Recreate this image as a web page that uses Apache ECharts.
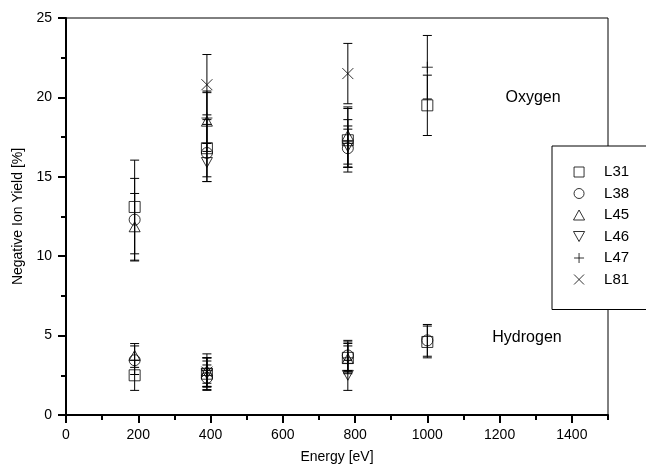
<!DOCTYPE html>
<html>
<head>
<meta charset="utf-8">
<script src="https://cdn.jsdelivr.net/npm/echarts@6/dist/echarts.min.js"></script>
<style>
  html, body { margin: 0; padding: 0; background: #fff; }
  #chart { width: 646px; height: 469px; }
</style>
</head>
<body>
<div id="chart"></div>
<script>
// energies of the measurement points (eV)
const energy = [190, 390, 780, 1000];

// oxygen / hydrogen yields (%) and their error half-widths, per sample
const L31_O = [13.1, 16.8, 17.3, 19.5];
const L31_Oerr = [2.95, 1.8, 2.0, 1.9];
const L31_H = [2.5, 2.6, 3.6, 4.6];
const L31_Herr = [0.95, 1.0, 1.0, 1.0];

const L38_O = [12.3, 16.5, 16.8, null];
const L38_Oerr = [2.6, 1.8, 1.2, null];
const L38_H = [3.45, 2.35, 3.75, 4.7];
const L38_Herr = [0.9, 0.8, 0.95, 1.0];

const L45_O = [11.85, 18.5, 17.6, null];
const L45_Oerr = [2.1, 1.9, 1.8, null];
const L45_H = [3.75, 2.8, 3.55, null];
const L45_Herr = [0.75, 1.05, 0.8, null];

const L46_O = [null, 15.9, 16.9, null];
const L46_Oerr = [null, 1.2, 1.3, null];
const L46_H = [null, 2.6, 2.5, null];
const L46_Herr = [null, 0.8, 0.95, null];

const L47_O = [null, 18.7, 17.1, 21.9];
const L47_Oerr = [null, 1.6, 1.5, 2.0];
const L47_H = [null, 2.8, 3.6, null];
const L47_Herr = [null, 0.8, 0.9, null];

const L81_O = [null, 20.8, 21.5, null];
const L81_Oerr = [null, 1.9, 1.9, null];
const L81_H = [null, 2.7, null, null];
const L81_Herr = [null, 0.9, null, null];

const samples = [
  { name: 'L31', symbol: 'path://M0,0L10,0L10,10L0,10Z', O: L31_O, Oe: L31_Oerr, H: L31_H, He: L31_Herr },
  { name: 'L38', symbol: 'circle', O: L38_O, Oe: L38_Oerr, H: L38_H, He: L38_Herr },
  { name: 'L45', symbol: 'path://M5,0L10,9L0,9Z', O: L45_O, Oe: L45_Oerr, H: L45_H, He: L45_Herr },
  { name: 'L46', symbol: 'path://M0,0L10,0L5,9Z', O: L46_O, Oe: L46_Oerr, H: L46_H, He: L46_Herr },
  { name: 'L47', symbol: 'path://M0,5L10,5M5,0L5,10', O: L47_O, Oe: L47_Oerr, H: L47_H, He: L47_Herr },
  { name: 'L81', symbol: 'path://M0,0L10,10M10,0L0,10', O: L81_O, Oe: L81_Oerr, H: L81_H, He: L81_Herr }
];

function points(s) {
  const pts = [];
  energy.forEach((e, i) => {
    if (s.O[i] != null) pts.push([e, s.O[i]]);
    if (s.H[i] != null) pts.push([e, s.H[i]]);
  });
  return pts;
}

function errs(s) {
  const out = [];
  energy.forEach((e, i) => {
    if (s.O[i] != null) out.push([e, s.O[i] - s.Oe[i], s.O[i] + s.Oe[i]]);
    if (s.H[i] != null) out.push([e, s.H[i] - s.He[i], s.H[i] + s.He[i]]);
  });
  return out;
}

// vertical error bar with small caps
function renderErr(params, api) {
  const x = api.value(0);
  const top = api.coord([x, api.value(2)]);
  const bot = api.coord([x, api.value(1)]);
  const w = 4.5;
  const st = { stroke: '#000', lineWidth: 1 };
  return {
    type: 'group',
    children: [
      { type: 'line', shape: { x1: top[0], y1: top[1], x2: bot[0], y2: bot[1] }, style: st },
      { type: 'line', shape: { x1: top[0] - w, y1: top[1], x2: top[0] + w, y2: top[1] }, style: st },
      { type: 'line', shape: { x1: bot[0] - w, y1: bot[1], x2: bot[0] + w, y2: bot[1] }, style: st }
    ]
  };
}

const font = 'Liberation Sans, Arial, sans-serif';
const series = [];
samples.forEach(s => {
  series.push({
    name: s.name + ' err',
    type: 'custom',
    renderItem: renderErr,
    encode: { x: 0, y: [1, 2] },
    data: errs(s),
    silent: true,
    z: 2
  });
});
samples.forEach(s => {
  series.push({
    name: s.name,
    type: 'scatter',
    symbol: s.symbol,
    symbolSize: 11,
    symbolKeepAspect: true,
    itemStyle: { color: 'rgba(0,0,0,0)', borderColor: '#000', borderWidth: 1 },
    data: points(s),
    z: 3
  });
});

const chart = echarts.init(document.getElementById('chart'));
chart.setOption({
  animation: false,
  textStyle: { fontFamily: font },
  grid: { left: 66, right: 38, top: 18, bottom: 52, show: true, borderColor: '#000', borderWidth: 1 },
  legend: {
    orient: 'vertical',
    left: 552,
    top: 146,
    data: samples.map(s => s.name),
    itemWidth: 40,
    itemHeight: 10,
    itemGap: 5.5,
    padding: [18, 40, 22, 21],
    backgroundColor: '#fff',
    borderColor: '#000',
    borderWidth: 1,
    itemStyle: { color: 'rgba(0,0,0,0)', borderColor: '#000', borderWidth: 1 },
    textStyle: { fontSize: 15, color: '#000', fontFamily: font, lineHeight: 16 }
  },
  xAxis: [{
    type: 'value',
    min: 0,
    max: 1500,
    interval: 200,
    name: 'Energy [eV]',
    nameLocation: 'middle',
    nameGap: 35,
    nameTextStyle: { fontSize: 14, color: '#000', fontFamily: font },
    axisLine: { onZero: false, lineStyle: { color: '#000', width: 2 } },
    axisTick: { length: 8, lineStyle: { color: '#000', width: 2 } },
    axisLabel: { fontSize: 14, color: '#000', margin: 13, showMaxLabel: false,
      formatter: v => (v % 200 === 0 ? String(v) : '') },
    splitLine: { show: false }
  }, {
    type: 'value',
    min: 0,
    max: 1500,
    interval: 100,
    position: 'bottom',
    axisLine: { show: false },
    axisTick: { length: 5, lineStyle: { color: '#000', width: 2 } },
    axisLabel: { show: false },
    splitLine: { show: false }
  }],
  yAxis: {
    type: 'value',
    min: 0,
    max: 25,
    interval: 5,
    name: 'Negative Ion Yield [%]',
    nameLocation: 'middle',
    nameGap: 41,
    nameTextStyle: { fontSize: 14, color: '#000', fontFamily: font },
    axisLine: { onZero: false, lineStyle: { color: '#000', width: 2 } },
    axisTick: { length: 8, lineStyle: { color: '#000', width: 2 } },
    minorTick: { show: true, splitNumber: 2, length: 5, lineStyle: { color: '#000', width: 2 } },
    axisLabel: { fontSize: 14, color: '#000', margin: 14 },
    splitLine: { show: false }
  },
  graphic: [
    { type: 'text', x: 533, y: 98, style: { text: 'Oxygen', fontSize: 16, fill: '#000', fontFamily: font, align: 'center', verticalAlign: 'middle' } },
    { type: 'text', x: 527, y: 338, style: { text: 'Hydrogen', fontSize: 16, fill: '#000', fontFamily: font, align: 'center', verticalAlign: 'middle' } }
  ],
  series: series
});
</script>
</body>
</html>
